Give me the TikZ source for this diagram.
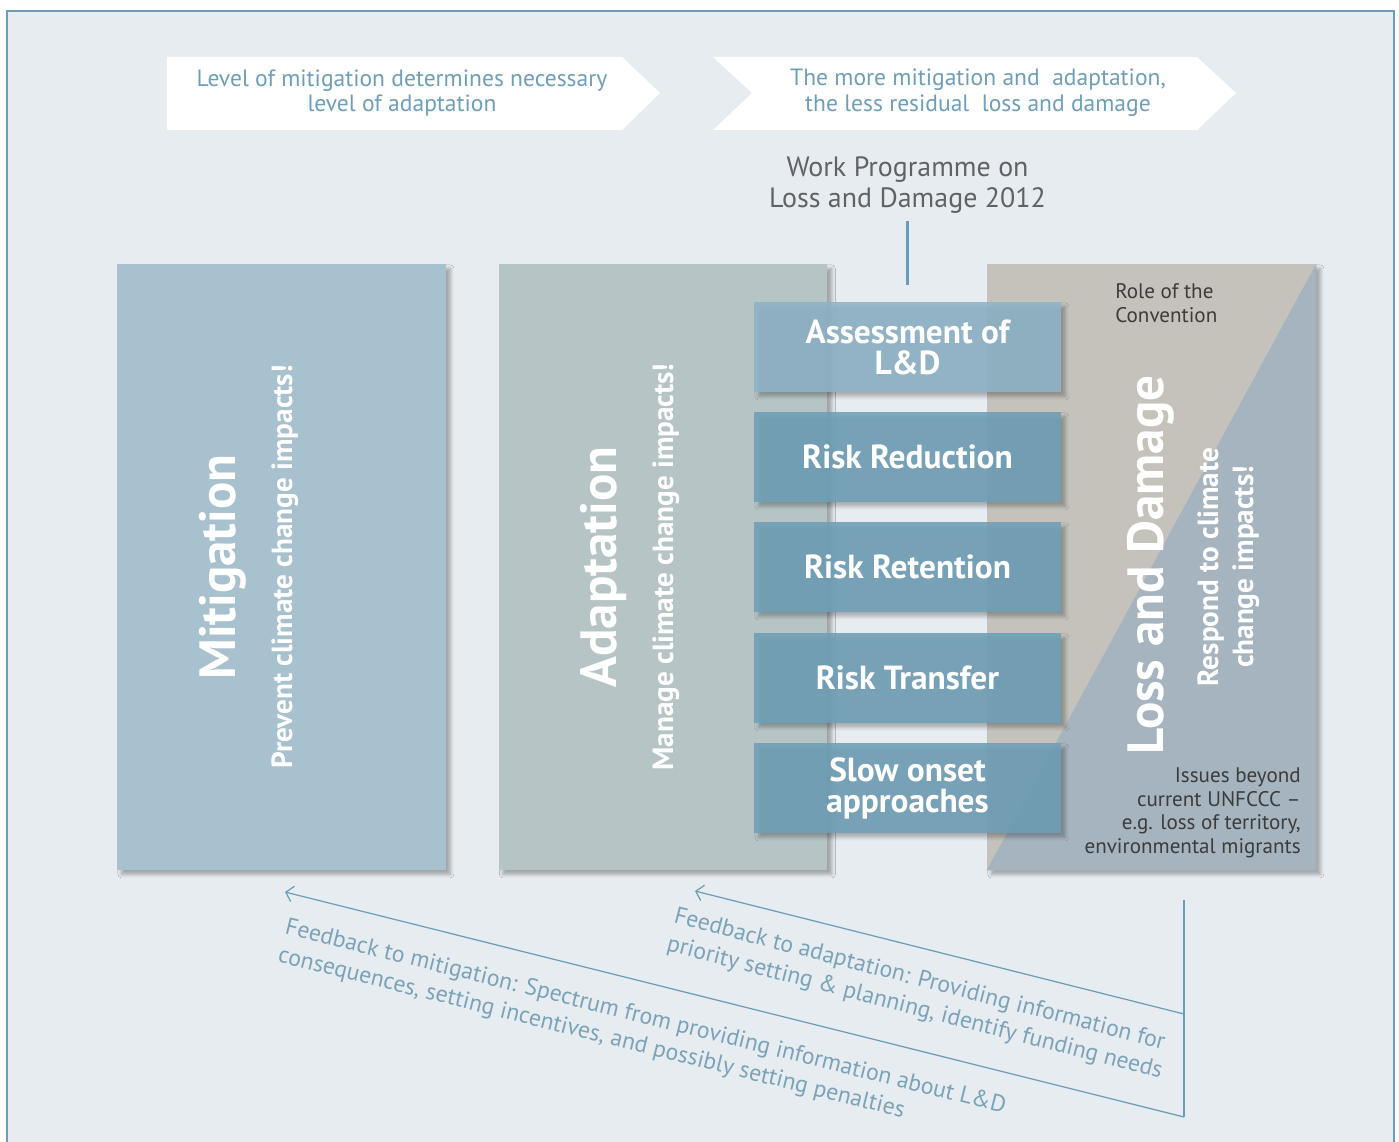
\documentclass[tikz,border=0pt]{standalone}
\usepackage{fontspec}
\setmainfont{PT Sans}
\usetikzlibrary{shadows.blur,arrows.meta}

\definecolor{BgCol}{HTML}{E7ECF0}
\definecolor{FrameCol}{HTML}{6B9DB8}
\definecolor{BannerText}{HTML}{6E9FBA}
\definecolor{MitCol}{HTML}{A8C1CE}
\definecolor{AdaCol}{HTML}{B7C4C5}
\definecolor{LDBeige}{HTML}{C4C2BB}
\definecolor{LDBlue}{HTML}{A5B4BE}
\definecolor{StepCol}{HTML}{6FA0B8}
\definecolor{StepLight}{HTML}{8EB4C8}
\definecolor{ProgText}{HTML}{5F6366}
\definecolor{DarkText}{HTML}{3C3C3C}
\definecolor{FeedText}{HTML}{7AA3BA}

\tikzset{
  softshadow/.style={blur shadow={shadow xshift=2.5pt, shadow yshift=-2.5pt, shadow blur radius=2pt, shadow opacity=30}},
  bigbox/.style={minimum width=6.58cm, minimum height=12.12cm, inner sep=0pt, softshadow},
  stepbox/.style={fill=StepCol, fill opacity=0.88, text opacity=1, text=white, minimum width=6.14cm,
    minimum height=1.8cm, inner sep=0pt, align=center, font=\fontsize{19}{17.6}\selectfont\bfseries, softshadow},
  title/.style={rotate=90, anchor=base, inner sep=0pt, text=white, font=\fontsize{29}{31}\selectfont\bfseries},
  subtitle/.style={rotate=90, anchor=base, inner sep=0pt, text=white, font=\fontsize{16.6}{19}\selectfont\bfseries},
  banner/.style={fill=white},
  bannertext/.style={text=BannerText, align=center, font=\fontsize{13.4}{14.7}\selectfont},
  notetext/.style={text=DarkText, inner sep=0pt, font=\fontsize{12}{13.6}\selectfont},
  feedtext/.style={text=FeedText, align=left, anchor=north west, inner sep=0pt, font=\fontsize{13.5}{16.4}\selectfont},
  feedline/.style={FrameCol, line width=0.7pt},
}

\begin{document}
\begin{tikzpicture}[x=0.02cm, y=-0.02cm]
		\useasboundingbox (0,0) rectangle (1399,1142);
		
		% Frame
		\fill[white] (0,0) rectangle (1399,1142);
		\fill[BgCol] (7,11) rectangle (1394,1142);
		\draw[FrameCol, line width=1.5pt] (7,1142) -- (7,11) -- (1394,11) -- (1394,1142);
		
		% Banners
		\fill[banner] (167,57) -- (622,57) -- (660,93) -- (622,130) -- (167,130) -- cycle;
		\node[bannertext] (BannerMit) at (402,93) {Level of mitigation determines necessary\\level of adaptation};
		
		\fill[banner] (713,57) -- (1197,57) -- (1236,93) -- (1197,130) -- (713,130) -- (752,93) -- cycle;
		\node[bannertext] (BannerLD) at (978,93) {The more mitigation and\ \ adaptation,\\the less residual\ \ loss and damage};
		
		% Work Programme
		\node[text=ProgText, align=center, anchor=north, inner sep=0pt, font=\fontsize{15.9}{18.1}\selectfont] (Programme) at (907.5,156) {Work Programme on\\Loss and Damage 2012};
		
		% Define Mitigation
		\node[bigbox, fill=MitCol] (BoxMit) at (281.5,567) {};
		\node[title] (TitleMit) at (235,567) {Mitigation};
		\node[subtitle] (SubMit) at (292,567) {Prevent climate change impacts!};
		
		% Define Adaptation
		\node[bigbox, fill=AdaCol] (BoxAda) at (663,567) {};
		\node[title] (TitleAda) at (616,567) {Adaptation};
		\node[subtitle] (SubAda) at (673,567) {Manage climate change impacts!};
		
		% Define Loss and Damage
		\node[bigbox, fill=LDBeige] (BoxLD) at (1151.5,567) {};
		\fill[LDBlue] (BoxLD.north east) -- (BoxLD.south east) -- (BoxLD.south west) -- cycle;
		\node[title] (TitleLD) at (1163,565) {Loss and Damage};
		\node[subtitle] (SubLDa) at (1218,567) {Respond to climate};
		\node[subtitle] (SubLDb) at (1253,567) {change impacts!};
		\node[notetext, align=left, anchor=north west] (Role) at (1115,283) {Role of the\\Convention};
		\node[notetext, align=right, anchor=north east] (Issues) at (1301,767) {Issues beyond\\current UNFCCC --\\e.g. loss of territory,\\environmental migrants};
		
		% Define steps
		\node[stepbox, fill=StepLight] (StepAssess) at (907.5,347) {Assessment of\\L\&D};
		\node[stepbox] (StepReduce) at (907.5,457) {Risk Reduction};
		\node[stepbox] (StepRetain) at (907.5,567) {Risk Retention};
		\node[stepbox] (StepTransfer) at (907.5,678) {Risk Transfer};
		\node[stepbox] (StepSlow) at (907.5,788) {Slow onset\\approaches};
		
		\draw[FrameCol, line width=1.2pt, shorten <=0.14cm, shorten >=0.34cm] (Programme.south) -- (StepAssess.north);
		
		% Feedback
		\coordinate (FeedTop) at (1184,900);
		\coordinate (FeedAda) at (1184,1014);
		\coordinate (FeedMit) at (1184,1117);
		\coordinate (TipAda) at (695,891);
		\coordinate (TipMit) at (285,892);
		
		\draw[feedline] (FeedTop) -- (FeedMit);
		\draw[feedline, -{Straight Barb[length=4pt, width=9pt]}] (FeedAda) -- (TipAda);
		\draw[feedline, -{Straight Barb[length=4pt, width=9pt]}] (FeedMit) -- (TipMit);
		
		\node[feedtext, rotate=-14.5] (TextAda) at (677,906) {Feedback to adaptation: Providing information for\\priority setting \& planning, identify funding needs};
		\node[feedtext, rotate=-14] (TextMit) at (288,917) {Feedback to mitigation: Spectrum from providing information about L\&D\\consequences, setting incentives, and possibly setting penalties};
	\end{tikzpicture}
\end{document}
